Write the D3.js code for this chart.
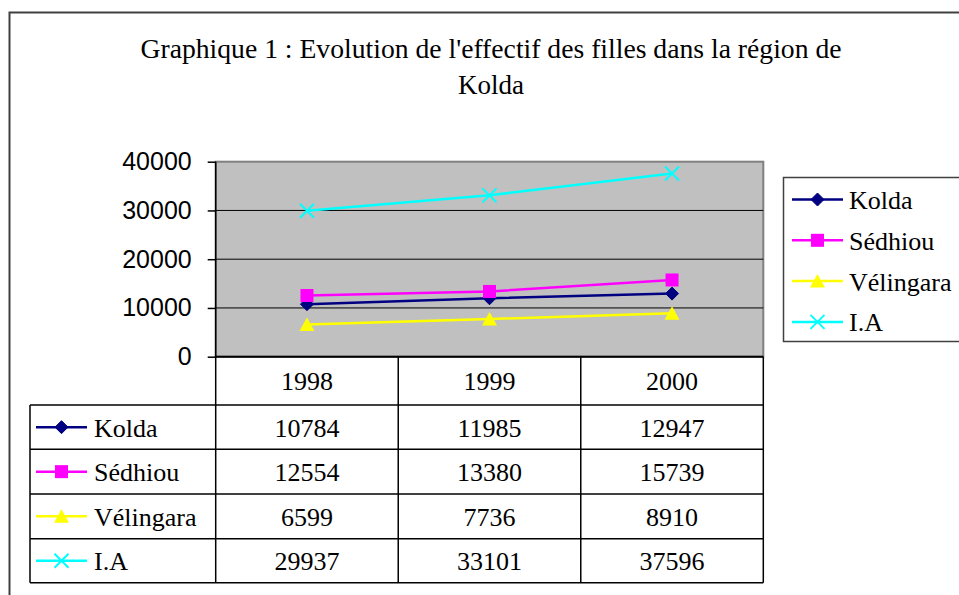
<!DOCTYPE html>
<html>
<head>
<meta charset="utf-8">
<script src="https://cdn.jsdelivr.net/npm/d3@7"></script>
<style>
  html, body { margin: 0; padding: 0; background: #fff; }
  svg { display: block; }
  .serif { font-family: "Liberation Serif", "DejaVu Serif", "Times New Roman", serif; }
  .sans { font-family: "Liberation Sans", Arial, sans-serif; }
</style>
</head>
<body>
<script>
const years = ["1998", "1999", "2000"];
const seriesNames = ["Kolda", "Sédhiou", "Vélingara", "I.A"];
const kolda = [10784, 11985, 12947];
const sedhiou = [12554, 13380, 15739];
const velingara = [6599, 7736, 8910];
const ia = [29937, 33101, 37596];
const yTicks = [0, 10000, 20000, 30000, 40000];
const titleLines = ["Graphique 1 : Evolution de l'effectif des filles dans la région de", "Kolda"];

const series = [
    { name: seriesNames[0], values: kolda, color: "#000080", marker: "diamond" },
    { name: seriesNames[1], values: sedhiou, color: "#FF00FF", marker: "square" },
    { name: seriesNames[2], values: velingara, color: "#FFFF00", marker: "triangle" },
    { name: seriesNames[3], values: ia, color: "#00FFFF", marker: "cross" }
];

const width = 959, height = 595;
const plot = { left: 215.7, right: 763.3, top: 161.7, bottom: 356.7 };
const tableRows = [405, 449.3, 494, 538.7, 582.7];
const tableLeft = 30;

let svg = d3.select("body").append("svg")
    .attr("width", width)
    .attr("height", height);

// outer frame (cut off on right and bottom)
svg.append("rect")
    .attr("x", 9.5).attr("y", 12.5)
    .attr("width", 1000).attr("height", 1000)
    .attr("fill", "none")
    .attr("stroke", "#404040")
    .attr("stroke-width", 2);

// title
svg.append("text")
    .attr("class", "serif")
    .attr("x", 491).attr("y", 58)
    .attr("text-anchor", "middle")
    .style("font-size", "27px")
    .attr("textLength", 701)
    .attr("lengthAdjust", "spacingAndGlyphs")
    .text(titleLines[0]);
svg.append("text")
    .attr("class", "serif")
    .attr("x", 491).attr("y", 94)
    .attr("text-anchor", "middle")
    .style("font-size", "27px")
    .text(titleLines[1]);

//scales
let xScale = d3.scaleBand().domain(years).range([plot.left, plot.right]).padding(0);
let yScale = d3.scaleLinear().domain([0, 40000]).range([plot.bottom, plot.top]);
const cx = (i) => xScale(years[i]) + xScale.bandwidth() / 2;

// plot background
svg.append("rect")
    .attr("x", plot.left).attr("y", plot.top)
    .attr("width", plot.right - plot.left)
    .attr("height", plot.bottom - plot.top)
    .attr("fill", "#C0C0C0")
    .attr("stroke", "#808080")
    .attr("stroke-width", 2);

// gridlines
svg.append("g").selectAll("line")
    .data(yTicks.filter(d => d > 0 && d < 40000))
    .enter().append("line")
    .attr("x1", plot.left).attr("x2", plot.right)
    .attr("y1", d => yScale(d)).attr("y2", d => yScale(d))
    .attr("stroke", "#000")
    .attr("stroke-width", 1);

// y axis
const yAxis = d3.axisLeft(yScale).tickValues(yTicks).tickSize(8).tickSizeOuter(0).tickPadding(16).tickFormat(d3.format("d"));
let yAxisG = svg.append("g").attr("transform", `translate(${plot.left}, 0)`).call(yAxis);
yAxisG.attr("font-family", null).attr("font-size", null);
yAxisG.select(".domain").remove();
yAxisG.selectAll("line").attr("stroke", "#000").attr("stroke-width", 1.5);
yAxisG.selectAll("text").attr("class", "sans").style("font-size", "25px").attr("fill", "#000");

// table lines
let grid = svg.append("g").attr("stroke", "#000").attr("stroke-width", 1.5);
// vertical lines
grid.append("line").attr("x1", plot.left).attr("x2", plot.left).attr("y1", plot.top).attr("y2", tableRows[4]);
years.forEach((y, i) => {
    const x = xScale(y) + xScale.bandwidth();
    grid.append("line").attr("x1", x).attr("x2", x).attr("y1", plot.bottom).attr("y2", tableRows[4]);
});
grid.append("line").attr("x1", tableLeft).attr("x2", tableLeft).attr("y1", tableRows[0]).attr("y2", tableRows[4]);
// horizontal lines
grid.append("line").attr("x1", plot.left).attr("x2", plot.right).attr("y1", plot.bottom).attr("y2", plot.bottom).attr("stroke-width", 2);
tableRows.forEach(r => {
    grid.append("line").attr("x1", tableLeft).attr("x2", plot.right).attr("y1", r).attr("y2", r);
});

// year header
svg.append("g").selectAll("text")
    .data(years)
    .enter().append("text")
    .attr("class", "serif")
    .attr("x", (d, i) => cx(i))
    .attr("y", (plot.bottom + tableRows[0]) / 2 + 9)
    .attr("text-anchor", "middle")
    .style("font-size", "26px")
    .text(d => d);

// marker helper
function drawMarker(g, type, x, y, color) {
    if (type === "diamond") {
        g.append("path")
            .attr("d", `M${x},${y - 6.5}L${x + 6.5},${y}L${x},${y + 6.5}L${x - 6.5},${y}Z`)
            .attr("fill", color).attr("stroke", color);
    } else if (type === "square") {
        g.append("rect")
            .attr("x", x - 6.5).attr("y", y - 6.5)
            .attr("width", 13).attr("height", 13)
            .attr("fill", color);
    } else if (type === "triangle") {
        g.append("path")
            .attr("d", `M${x},${y - 7}L${x + 7.5},${y + 6.5}L${x - 7.5},${y + 6.5}Z`)
            .attr("fill", color);
    } else {
        g.append("path")
            .attr("d", `M${x - 7},${y - 7}L${x + 7},${y + 7}M${x - 7},${y + 7}L${x + 7},${y - 7}`)
            .attr("stroke", color).attr("stroke-width", 2).attr("fill", "none");
    }
}

// lines + markers
const line = d3.line().x((d, i) => cx(i)).y(d => yScale(d));
series.forEach(s => {
    let g = svg.append("g");
    g.append("path")
        .attr("d", line(s.values))
        .attr("fill", "none")
        .attr("stroke", s.color)
        .attr("stroke-width", 2.5);
    s.values.forEach((v, i) => drawMarker(g, s.marker, cx(i), yScale(v), s.color));
});

// table rows
series.forEach((s, r) => {
    const yc = (tableRows[r] + tableRows[r + 1]) / 2;
    let g = svg.append("g");
    g.append("line").attr("x1", 36).attr("x2", 87).attr("y1", yc).attr("y2", yc)
        .attr("stroke", s.color).attr("stroke-width", 2.5);
    drawMarker(g, s.marker, 61.5, yc, s.color);
    g.append("text").attr("class", "serif").attr("x", 94).attr("y", yc + 9.5)
        .style("font-size", "26px")
        .text(s.name);
    s.values.forEach((v, i) => {
        g.append("text")
            .attr("class", "serif")
            .attr("x", cx(i)).attr("y", yc + 9.5)
            .attr("text-anchor", "middle")
            .style("font-size", "26px")
            .text(v);
    });
});

// legend
let legend = svg.append("g");
legend.append("rect")
    .attr("x", 783.5).attr("y", 177.5)
    .attr("width", 300).attr("height", 164)
    .attr("fill", "#fff")
    .attr("stroke", "#404040")
    .attr("stroke-width", 1.5);
series.forEach((s, i) => {
    const yc = 199.5 + i * 40.8;
    legend.append("line").attr("x1", 792).attr("x2", 843).attr("y1", yc).attr("y2", yc)
        .attr("stroke", s.color).attr("stroke-width", 2.5);
    drawMarker(legend, s.marker, 817.5, yc, s.color);
    legend.append("text").attr("class", "serif").attr("x", 849).attr("y", yc + 9.5)
        .style("font-size", "26px")
        .text(s.name);
});
</script>
</body>
</html>
